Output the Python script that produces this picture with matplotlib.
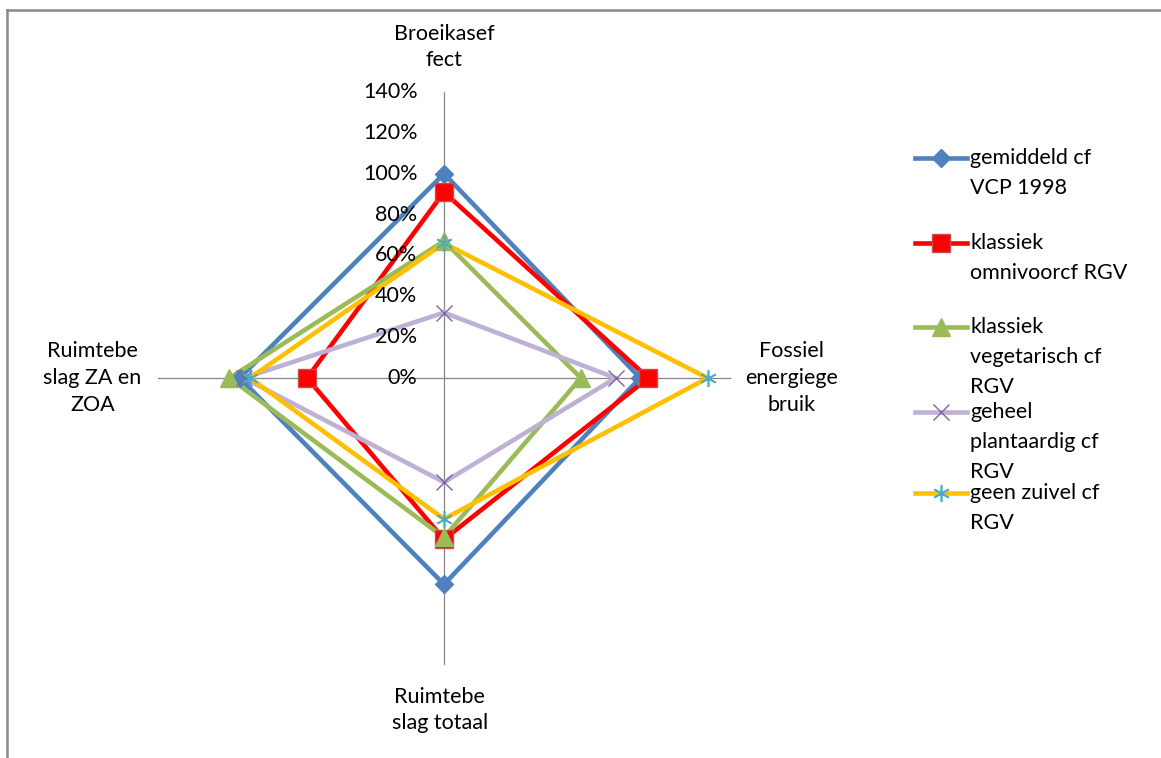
import numpy as np
import matplotlib
matplotlib.use("Agg")
import matplotlib.pyplot as plt
from matplotlib.lines import Line2D

# data (percent of reference)
categories = ["Broeikasef\nfect", "Fossiel\nenergiege\nbruik", "Ruimtebe\nslag totaal", "Ruimtebe\nslag ZA en\nZOA"]
series_names = ["gemiddeld cf\nVCP 1998", "klassiek\nomnivoorcf RGV", "klassiek\nvegetarisch cf\nRGV",
                "geheel\nplantaardig cf\nRGV", "geen zuivel cf\nRGV"]
gemiddeld = [100, 96, 101, 100]
omnivoor = [91, 100, 79, 67]
vegetarisch = [67, 67, 78, 105]
plantaardig = [32, 84, 51, 98]
zuivel = [66, 129, 69, 95]
tick_values = [0, 20, 40, 60, 80, 100, 120, 140]
tick_labels = ["0%", "20%", "40%", "60%", "80%", "100%", "120%", "140%"]

series = [gemiddeld, omnivoor, vegetarisch, plantaardig, zuivel]
styles = [
    dict(color="#4F81BD", marker="D", ms=9, mfc="#4F81BD", mec="#4F81BD", mew=1),
    dict(color="#FF0000", marker="s", ms=13, mfc="#FF0000", mec="#C0504D", mew=1),
    dict(color="#9BBB59", marker="^", ms=13, mfc="#9BBB59", mec="#9BBB59", mew=1),
    dict(color="#BFB1D5", marker="x", ms=11, mfc="none", mec="#8064A2", mew=1),
    dict(color="#FFC000", marker=(6, 2, 0), ms=12, mfc="none", mec="#4BACC6", mew=1.2),
]
lw = 3.3

W, H = 1161, 758
plt.rcParams['font.family'] = ['Lato', 'DejaVu Sans']
fig = plt.figure(figsize=(W / 100, H / 100), dpi=100)

# axes placed so centre sits at (444, 378) px, 2.043 px per percent
cx, cy, k, L = 444, 378, 2.043, 150
ax = fig.add_axes([(cx - L * k) / W, (H - cy - L * k) / H, 2 * L * k / W, 2 * L * k / H])
ax.set_xlim(-L, L)
ax.set_ylim(-L, L)
ax.axis("off")

angles = np.deg2rad([90, 0, -90, 180])

# axis cross
rmax = tick_values[-1]
for a in angles:
    ax.plot([0, rmax * np.cos(a)], [0, rmax * np.sin(a)], color="#868686", lw=0.9, zorder=1)

for v, lab in zip(tick_values, tick_labels):
    ax.text(-13, v, lab, ha="right", va="center", fontsize=15.5, color="#000000")

for vals, st in zip(series, styles):
    v = np.array(vals + vals[:1], dtype=float)
    a = np.append(angles, angles[0])
    x = v * np.cos(a)
    y = v * np.sin(a)
    ax.plot(x, y, lw=lw, color=st["color"], zorder=2)
    ax.plot(x[:-1], y[:-1], ls="none", marker=st["marker"], ms=st["ms"], mfc=st["mfc"],
            mec=st["mec"], mew=st["mew"], zorder=3)

# category labels
label_pos = [(0, 162), (170, 0), (-2, -162.5), (-172, 0)]
for lab, (lx, ly) in zip(categories, label_pos):
    ax.text(lx, ly, lab, ha="center", va="center", fontsize=15.5, linespacing=1.42, clip_on=False)


def fx(px):
    return px / W


def fy(py):
    return (H - py) / H


# legend drawn by hand
entry_y = [158, 243, 327, 412, 493]
for name, st, py in zip(series_names, styles, entry_y):
    fig.add_artist(Line2D([fx(915), fx(967)], [fy(py), fy(py)], transform=fig.transFigure,
                          color=st["color"], lw=lw))
    fig.add_artist(Line2D([fx(941)], [fy(py)], transform=fig.transFigure, ls="none",
                          marker=st["marker"], ms=st["ms"], mfc=st["mfc"], mec=st["mec"], mew=st["mew"]))
    for i, line in enumerate(name.split("\n")):
        fig.text(fx(970), fy(py + 30 * i), line, ha="left", va="center", fontsize=15.5)

# chart frame (top and left edges visible)
fig.add_artist(Line2D([fx(7), fx(W)], [fy(10), fy(10)], transform=fig.transFigure, color="#898989", lw=1.8))
fig.add_artist(Line2D([fx(7), fx(7)], [fy(10), fy(H)], transform=fig.transFigure, color="#898989", lw=1.8))

fig.savefig("out.png", dpi=100)
